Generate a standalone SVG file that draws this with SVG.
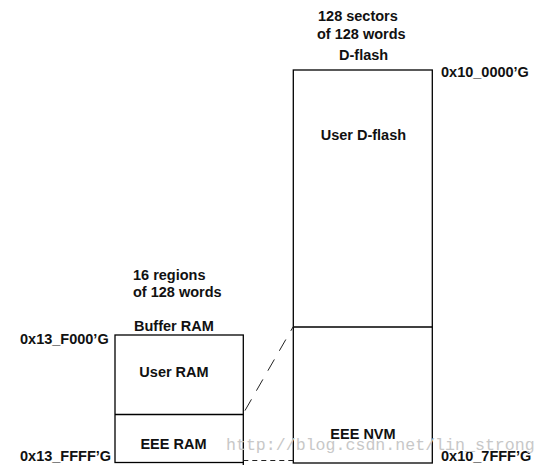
<svg xmlns="http://www.w3.org/2000/svg" width="548" height="467" viewBox="0 0 548 467">
<style>
.t{font-family:"Liberation Sans",Arial,sans-serif;font-weight:bold;font-size:14.5px;fill:#111}
.box{fill:#fff;stroke:#000;stroke-width:1.3}
.ln{stroke:#000;stroke-width:1.3;fill:none}
.dash{stroke:#222;stroke-width:1;fill:none}
.wm{font-family:"Liberation Mono","Courier New",monospace;font-size:16.6px;fill:#c8c8c8}
</style>
<rect width="548" height="467" fill="#fff"/>
<g id="dflash">
<rect class="box" x="293.3" y="70" width="139" height="393"/>
<line class="ln" x1="293.3" y1="327" x2="432.3" y2="327"/>
<text class="t" x="318" y="21">128 sectors</text>
<text class="t" x="317" y="38.5">of 128 words</text>
<text class="t" x="339" y="59.5">D-flash</text>
<text class="t" x="441" y="76.5">0x10_0000’G</text>
<text class="t" x="363.4" y="139.5" text-anchor="middle">User D-flash</text>
<text class="t" x="363" y="439" text-anchor="middle">EEE NVM</text>
<text class="t" x="441" y="461">0x10_7FFF’G</text>
</g>
<g id="bufferram">
<rect class="box" x="115" y="335" width="128.3" height="127.5"/>
<line class="ln" x1="115" y1="414.5" x2="243.3" y2="414.5"/>
<line class="ln" x1="243.3" y1="462" x2="243.3" y2="465"/>
<text class="t" x="133" y="279.5">16 regions</text>
<text class="t" x="133" y="296.5">of 128 words</text>
<text class="t" x="134" y="331">Buffer RAM</text>
<text class="t" x="20" y="343.5">0x13_F000’G</text>
<text class="t" x="174" y="376.7" text-anchor="middle">User RAM</text>
<text class="t" x="173.5" y="449.3" text-anchor="middle">EEE RAM</text>
<text class="t" x="20" y="460.5">0x13_FFFF’G</text>
</g>
<g id="connectors">
<line class="dash" x1="293.3" y1="326.5" x2="243.3" y2="413.5" stroke-dasharray="13 10" stroke-dashoffset="8"/>
<line class="dash" x1="243.3" y1="460.5" x2="293.3" y2="460.5" stroke-dasharray="5 4"/>
</g>
<text class="wm" x="226" y="450">http://blog.csdn.net/lin_strong</text>
</svg>
